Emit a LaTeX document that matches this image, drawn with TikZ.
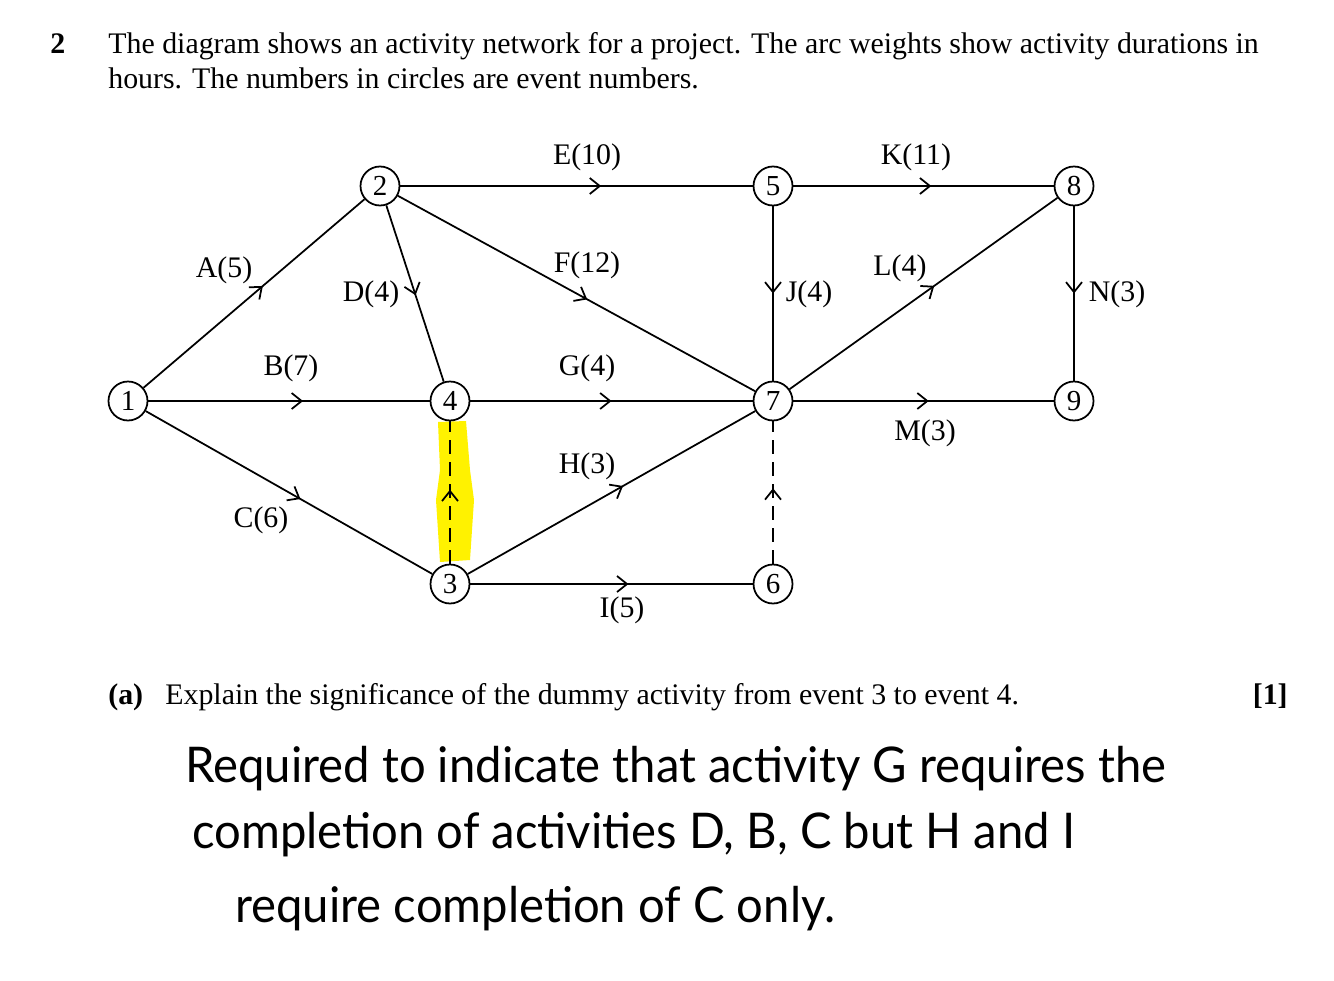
\documentclass[tikz,border=0pt]{standalone}
\usepackage{fontspec}
\setmainfont{Liberation Serif}
\newfontfamily\handfont[FakeStretch=0.96]{Lato}
\usetikzlibrary{arrows.meta, decorations.markings}
\definecolor{marker}{HTML}{fff200}

\begin{document}
\begin{tikzpicture}[
    x=0.02cm, y=-0.02cm,
    event/.style={circle, draw, line width=1pt, inner sep=0pt,
                  minimum size=0.78cm, font=\fontsize{16.5}{16.5}\selectfont},
    act/.style={line width=1pt,
                decoration={markings, mark=at position #1 with
                  {\arrow{Straight Barb[length=2mm, width=3.2mm, line width=1pt]}}},
                postaction={decorate}},
    act/.default=0.55,
    dummy/.style={act=#1, dash pattern=on 0.28cm off 0.16cm},
    dummy/.default=0.52,
    lbl/.style={font=\fontsize{17}{17}\selectfont, inner sep=1pt},
    qtext/.style={anchor=base west, inner sep=0pt,
                  font=\fontsize{17}{20}\selectfont},
    hand/.style={anchor=base west, inner sep=0pt,
                 font=\handfont\fontsize{28}{30}\selectfont},
]
    \useasboundingbox (0,0) rectangle (1334,980);

    % Question text
    \node[qtext] (qnum) at (50,54) {\textbf{2}};
    \node[qtext] (qline1) at (108,54) {The diagram shows an activity network for a project. The arc weights show activity durations in};
    \node[qtext] (qline2) at (108,89) {hours. The numbers in circles are event numbers.};

    % Highlight on the dummy
    \fill[marker] (438,422) -- (466,421) -- (470,470) -- (474,500) -- (470,560)
                  -- (440,562) -- (436,500) -- (440,470) -- cycle;

    % Events
    \node[event] (n1) at (128,401) {1};
    \node[event] (n2) at (380,186) {2};
    \node[event] (n3) at (450,584) {3};
    \node[event] (n4) at (450,401) {4};
    \node[event] (n5) at (773,186) {5};
    \node[event] (n6) at (773,584) {6};
    \node[event] (n7) at (773,401) {7};
    \node[event] (n8) at (1074,186) {8};
    \node[event] (n9) at (1074,401) {9};

    % Activities
    \draw[act=0.54] (n1) -- (n2);
    \draw[act=0.55] (n1) -- (n4);
    \draw[act=0.54] (n1) -- (n3);
    \draw[act=0.57] (n2) -- (n5);
    \draw[act=0.51] (n2) -- (n4);
    \draw[act=0.53] (n2) -- (n7);
    \draw[act=0.50] (n4) -- (n7);
    \draw[act=0.54] (n3) -- (n7);
    \draw[act=0.56] (n3) -- (n6);
    \draw[act=0.53] (n5) -- (n8);
    \draw[act=0.50] (n5) -- (n7);
    \draw[act=0.54] (n7) -- (n8);
    \draw[act=0.52] (n7) -- (n9);
    \draw[act=0.50] (n8) -- (n9);
    \draw[dummy=0.52] (n3) -- (n4);
    \draw[dummy=0.53] (n6) -- (n7);

    % Activity labels
    \node[lbl] (lA) at (224,270) {A(5)};
    \node[lbl] (lB) at (291,368) {B(7)};
    \node[lbl] (lC) at (261,520) {C(6)};
    \node[lbl] (lD) at (371,294) {D(4)};
    \node[lbl] (lE) at (587,157) {E(10)};
    \node[lbl] (lF) at (587,265) {F(12)};
    \node[lbl] (lG) at (587,368) {G(4)};
    \node[lbl] (lH) at (587,466) {H(3)};
    \node[lbl] (lI) at (622,610) {I(5)};
    \node[lbl] (lJ) at (809,294) {J(4)};
    \node[lbl] (lK) at (916,157) {K(11)};
    \node[lbl] (lL) at (900,268) {L(4)};
    \node[lbl] (lM) at (925,433) {M(3)};
    \node[lbl] (lN) at (1117,294) {N(3)};

    % Part (a)
    \node[qtext] (qa) at (108,704) {\textbf{(a)}};
    \node[qtext] (qaline) at (165,704) {Explain the significance of the dummy activity from event 3 to event 4.};
    \node[qtext, anchor=base east] (qmark) at (1288,704) {\textbf{[1]}};

    % Answer
    \node[hand] (ans1) at (185,782) {Required to indicate that activity G requires the};
    \node[hand] (ans2) at (192,848) {completion of activities D, B, C but H and I};
    \node[hand] (ans3) at (235,922) {require completion of C only.};
\end{tikzpicture}
\end{document}
